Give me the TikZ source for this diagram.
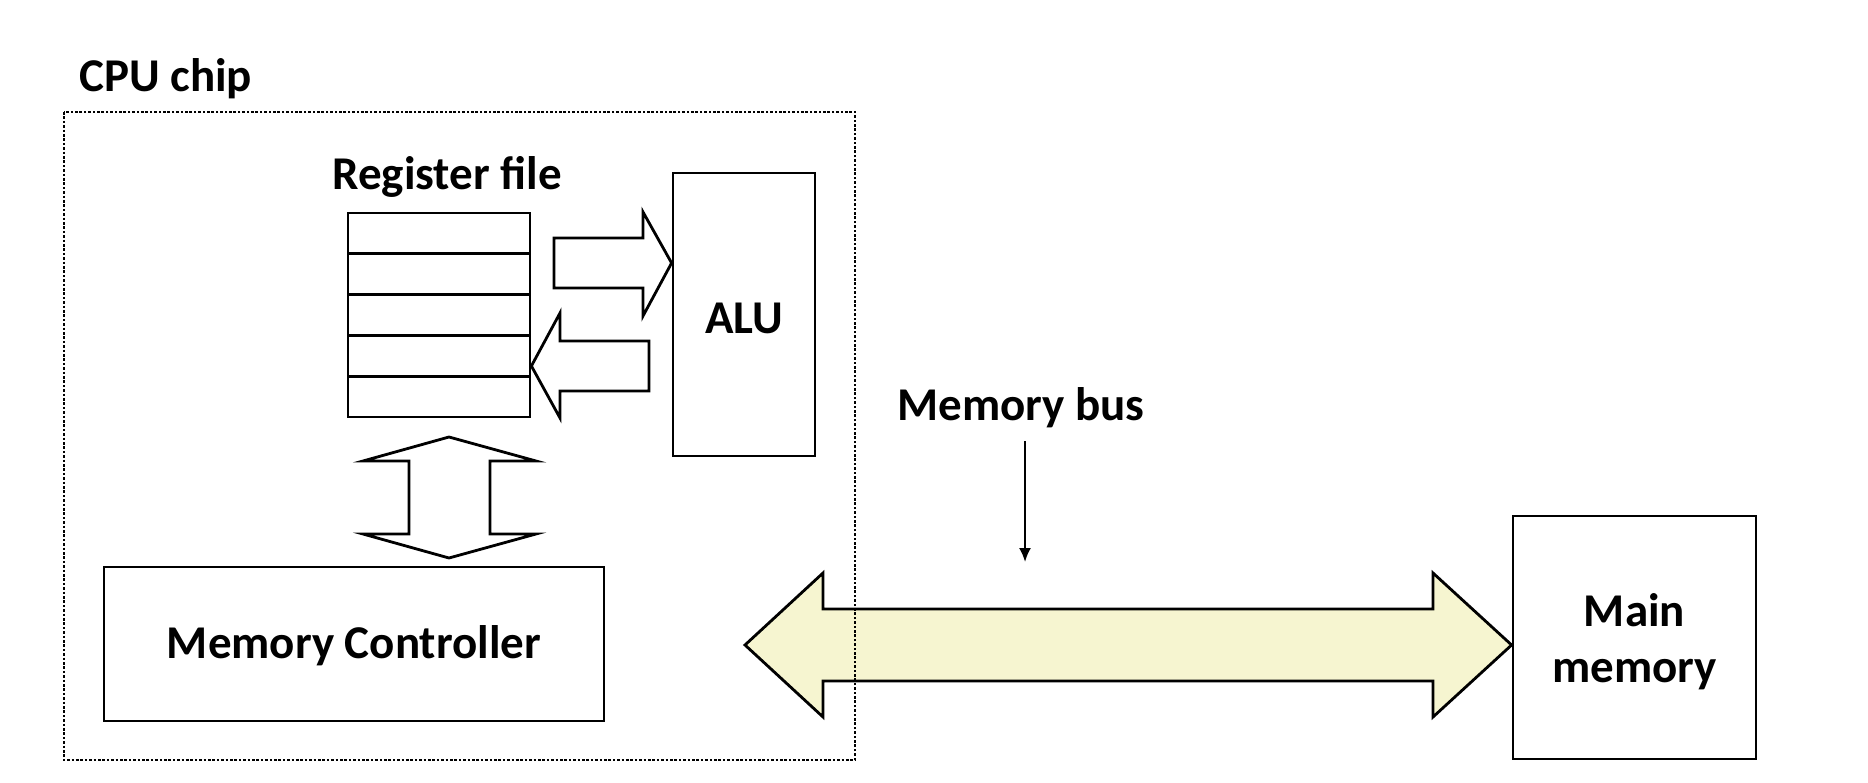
\documentclass[tikz,border=0pt]{standalone}
\usepackage{fontspec}
\setmainfont{Carlito}
\usetikzlibrary{arrows.meta}
\definecolor{busfill}{RGB}{246,245,208}
\begin{document}
\begin{tikzpicture}[x=1pt,y=-1pt,
  box/.style={draw,line width=2.8pt,inner sep=0pt},
  blockarrow/.style={draw,line width=2.8pt,line join=miter,fill=white},
  lbl/.style={font=\fontsize{47}{56}\selectfont\bfseries,inner sep=0pt}]
\useasboundingbox (0,0) rectangle (1868,783);
% labels
\node[lbl,anchor=west] (cpulbl) at (79,79) {CPU chip};
\node[lbl] (reglbl) at (447,177) {Register file};
% register file
\node[box,minimum width=182pt,minimum height=204pt] (reg) at (439,315) {};
\foreach \i in {1,...,4}{\draw[line width=2.8pt] (348,{213+40.8*\i}) -- (530,{213+40.8*\i});}
% ALU
\node[box,minimum width=142pt,minimum height=283pt] (alu) at (744,314.5) {};
\node[lbl] (alulbl) at (744,318) {ALU};
% arrows reg <-> ALU
\draw[blockarrow] (554,238) -- (643,238) -- (643,212) -- (alu.west|-0,263) -- (643,316) -- (643,288) -- (554,288) -- cycle;
\draw[blockarrow] (649,341) -- (560,341) -- (560,313) -- (reg.east|-0,366) -- (560,418) -- (560,391) -- (649,391) -- cycle;
% memory controller
\node[box,minimum width=500pt,minimum height=154pt] (mc) at (354,644) {};
\node[lbl] (mclbl) at (354,646) {Memory Controller};
% vertical double arrow
\draw[blockarrow] (449,437) -- (536,461) -- (490,461) -- (490,534) -- (536,534) -- (449,558) -- (363,534) -- (409,534) -- (409,461) -- (363,461) -- cycle;
% main memory
\node[box,minimum width=243pt,minimum height=243pt] (mm) at (1634.5,637.5) {};
\node[lbl,align=center] (mmlbl) at (1634.5,642) {Main\\memory};
% bus
\draw[blockarrow,fill=busfill] (745,645) -- (823,573) -- (823,609) -- (1433,609) -- (1433,573) -- (mm.west|-0,645) -- (1433,717) -- (1433,681) -- (823,681) -- (823,717) -- cycle;
% memory bus label
\node[lbl] (buslbl) at (1021,408) {Memory bus};
\coordinate (busfrom) at (1025,441);
\coordinate (bustip) at (1025,562);
\draw[line width=2pt,-{Latex[length=14pt,width=12pt]}] (busfrom) -- (bustip);
% CPU chip dotted frame
\draw[line width=2.8pt,dash pattern=on 2.6pt off 1.8pt] (64,112) rectangle (855,760);
\end{tikzpicture}
\end{document}
